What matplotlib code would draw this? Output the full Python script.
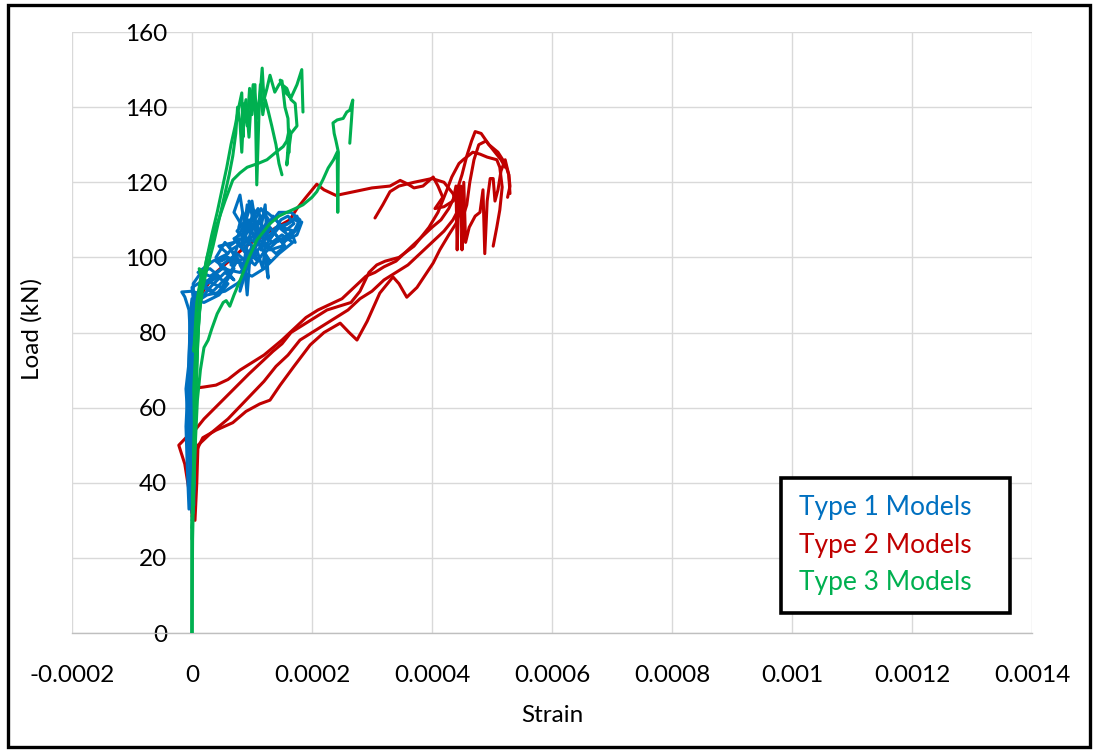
import matplotlib
matplotlib.use("Agg")
import matplotlib.pyplot as plt
from matplotlib.lines import Line2D
from matplotlib.patches import Rectangle

plt.rcParams['font.family'] = ['Lato', 'DejaVu Sans']

# Strain values are in microstrain, loads in kN.
# ---- Type 1 models ----
T1_A_STRAIN = [0, -2, -5, -8, -10, -5, -3, -5, -12, -17, 0, 10, 25, 45, 30, 10, 35, 60, 45, 70, 85, 70, 80, 90, 100, 110, 120, 135, 150, 170, 183, 175, 150, 130, 115]
T1_A_LOAD = [32, 40, 50, 60, 65, 72, 80, 86, 89.5, 90.8, 91, 90.5, 93, 95, 97, 96, 99, 101, 103, 104, 108, 112, 116.6, 106, 110, 113, 106, 111, 108, 110, 109.4, 106, 104, 108, 102]
T1_B_STRAIN = [2, 2, 3, 2, 5, 0, 20, 50, 65, 40, 60, 85, 100, 80, 95, 120, 100, 90, 80, 95, 110, 125, 127, 120, 140, 160, 145, 130]
T1_B_LOAD = [32, 45, 60, 75, 85, 92, 94, 92, 96, 99, 100, 98, 101, 103, 105, 107, 108, 102, 91, 99, 104, 100, 94.5, 101, 104, 106, 108, 105]
T1_C_STRAIN = [0, 4, 5, 6, 8, 10, 30, 55, 70, 50, 75, 90, 100, 88, 95, 105, 115, 122, 125, 140, 160, 175, 178, 160, 135, 112, 100, 92, 85]
T1_C_LOAD = [30, 40, 55, 70, 82, 88, 92, 96, 94, 98, 101, 99, 103, 106, 110, 104, 108, 114, 105, 108, 109, 111, 108, 105, 104, 106, 112, 114, 104]
T1_D_STRAIN = [-3, -4, -2, 0, 5, 15, 35, 60, 75, 62, 80, 65, 90, 105, 118, 130, 110, 95, 102, 110, 125, 150, 168, 145, 120, 100, 85]
T1_D_LOAD = [35, 50, 70, 80, 88, 93, 91, 95, 99, 103, 105, 98, 100, 98, 101, 99, 104, 108, 112, 105, 103, 106, 104, 101, 97, 95, 96]
T1_E_STRAIN = [-5, -8, -10, -6, -4, -2, 5, 20, 40, 55, 70, 60, 48, 65, 85, 95, 110, 100, 75, 90, 105, 115, 100, 95, 110, 130, 150, 165, 172]
T1_E_LOAD = [33, 45, 55, 68, 78, 85, 90, 92, 90, 93, 97, 100, 99, 102, 104, 101, 99, 103, 107, 110, 108, 111, 113, 115, 104, 102, 103, 107, 104]
T1_F_STRAIN = [1, 0, 1, 0, 3, 2, 15, 30, 50, 40, 55, 75, 88, 92, 96, 108, 118, 122, 135, 148, 160, 170, 155, 140, 125, 112, 98, 85, 78]
T1_F_LOAD = [35, 50, 65, 78, 88, 93, 96, 95, 97, 100, 104, 100, 97, 90, 99, 102, 97, 103, 106, 110, 111, 109, 107, 110, 112, 109, 107, 112, 108]
T1_G_STRAIN = [0, -3, -5, -3, 0, 20, 45, 60, 40, 20, 50, 80, 100, 85, 70, 90, 110, 128, 115, 105, 120, 140, 155, 140]
T1_G_LOAD = [33, 50, 70, 85, 89, 88, 90, 93, 95, 93, 97, 96, 99, 102, 105, 107, 106, 110, 113, 110, 104, 101, 103, 106]
T1_H_STRAIN = [3, 4, 5, 6, 25, 55, 75, 90, 80, 100, 115, 95, 82, 88, 100, 108, 125, 145, 165, 180, 170, 150]
T1_H_LOAD = [34, 55, 75, 88, 90, 91, 93, 95, 98, 100, 103, 105, 103, 109, 115, 107, 108, 112, 112, 110, 107, 108]

# ---- Type 2 models ----
T2_A_STRAIN = [3, 4, 5, 5, 6, 20, 40, 60, 80, 100, 120, 135, 150, 170, 190, 210, 230, 250, 270, 290, 305, 320, 340, 360, 380, 400, 415, 428, 440, 450, 458, 466, 472, 482, 495, 510, 522, 528, 530, 526]
T2_A_LOAD = [32, 40, 50, 58, 65.2, 65.5, 66, 67.5, 70, 72, 74, 76, 78, 81, 84, 86, 87.5, 89, 92, 95, 96, 97.5, 99, 102, 105, 108, 110, 113, 117, 122, 127, 131, 133.5, 133, 130, 128, 125, 122, 119, 116]
T2_B_STRAIN = [0, -5, -12, -22, -10, 5, 20, 45, 70, 95, 115, 135, 150, 165, 185, 205, 225, 245, 265, 280, 295, 308, 322, 345, 370, 395, 410, 425, 433, 445, 452, 468, 480, 492, 508, 513, 517, 513, 508, 502]
T2_B_LOAD = [32, 38, 45, 50, 52, 54, 57, 61, 65, 69, 72, 75, 77, 80, 82, 84, 86, 87, 88, 91, 96, 98, 99, 100, 103, 108, 112, 118, 121.4, 125, 126, 128, 127.5, 126.7, 126, 124, 118.7, 112.6, 108, 103]
T2_C_STRAIN = [2, 4, 6, 18, 40, 68, 90, 113, 130, 147, 170, 197, 220, 247, 262, 275, 292, 313, 335, 345, 358, 375, 402, 413, 428, 440, 446, 448, 450, 453, 456, 462, 472, 480, 485, 488, 492, 497, 502, 505, 510, 515, 522, 528, 530]
T2_C_LOAD = [33, 42, 48, 52, 54, 56, 59, 61, 62, 66, 71, 76.7, 80, 82.5, 80, 78, 83, 90.5, 94.8, 93, 89.4, 92, 98.5, 102, 106, 109, 112, 119, 102, 120, 104, 108, 111, 112, 118, 101, 115, 121, 121, 115, 118, 123, 126, 122, 117]
T2_D_STRAIN = [0, 2, 4, 5, 6, 40, 90, 130, 163, 175, 190, 208, 220, 240, 270, 300, 330, 347, 360, 370, 385, 402, 410, 418, 405, 420, 435, 440, 442, 445, 450, 458, 463, 470, 478, 490, 505, 515, 522]
T2_D_LOAD = [31, 45, 60, 75, 88, 96, 103, 107, 110, 113, 116, 119.5, 118, 116.5, 117.5, 118.5, 119, 120.5, 119.5, 118.5, 119, 121.4, 119, 116, 113, 113.5, 115, 119, 102, 118, 110, 114, 120, 126, 130, 131, 128, 126, 124]
T2_E_STRAIN = [5, 8, 10, 30, 60, 90, 120, 140, 160, 180, 200, 220, 240, 260, 280, 300, 320, 340, 360, 380, 400, 420, 435, 445, 435, 420, 400, 370, 345, 330, 318, 305]
T2_E_LOAD = [30, 40, 50, 53, 57, 62, 67, 71, 74, 78, 80, 82, 84, 86, 89, 91, 94, 96, 98, 101, 104, 107, 110, 113, 117, 120, 121, 120, 119, 117.5, 114, 110.5]

# ---- Type 3 models ----
T3_A_STRAIN = [0, 0, 0, 3, 6, 9, 14, 20, 27, 33, 42, 52, 57, 63, 70, 83, 95, 108, 120, 130, 145, 158, 172, 185, 200, 208, 218, 227, 236, 242, 243, 244, 240, 237, 235, 242, 252, 258, 263, 268, 266, 263]
T3_A_LOAD = [0, 15, 28, 40, 52, 62, 70, 76, 78, 81, 85, 88, 88.5, 87, 90, 95, 100, 104.6, 107, 109, 111, 112, 113, 114, 116, 117.5, 120.6, 123.8, 126, 128, 112, 128, 131, 133, 135.8, 136.6, 137, 138.7, 139.2, 141.9, 137, 130.4]
T3_B_STRAIN = [0, 1, 3, 6, 10, 15, 25, 40, 55, 68, 80, 92, 110, 125, 140, 152, 158, 162, 158, 165, 175, 172, 165, 158, 150, 147, 155, 165, 175, 183, 184, 185]
T3_B_LOAD = [0, 25, 40, 60, 80, 92, 100, 108, 115, 120.6, 122.5, 124, 125, 126, 128, 129.5, 131, 134, 124.6, 133, 135, 141, 142, 145, 146, 147.2, 144, 142.5, 146, 150, 144, 138.7]
T3_C_STRAIN = [0, 0, 2, 4, 7, 10, 14, 18, 25, 33, 42, 50, 58, 65, 72, 78, 83, 85, 88, 92, 96, 100, 105, 108, 112, 117, 120, 125, 130, 138, 145, 150, 155, 160, 162]
T3_C_LOAD = [0, 28, 40, 55, 70, 80, 88, 94, 100, 106, 112, 118, 124, 130, 135, 140, 143.8, 132, 141, 135, 145, 138, 146, 119.3, 140, 150.4, 142, 145, 148.5, 144, 146, 147, 140, 137, 128]
T3_D_STRAIN = [0, 3, 6, 9, 12, 18, 25, 35, 45, 55, 62, 68, 73, 76, 80, 83, 86, 90, 95, 98, 102, 106, 110, 114, 118, 122, 127, 133, 140, 145, 150]
T3_D_LOAD = [28, 45, 62, 75, 85, 92, 97, 103, 110, 117, 122, 127, 133, 140, 136, 128, 138, 142, 132, 140, 146, 142, 137, 146, 138, 142, 139, 135, 130, 125, 122]
T3_E_STRAIN = [0, 2, 4, 3, 6, 10, 3, 8, 15, 12, 20, 30]
T3_E_LOAD = [25, 40, 55, 65, 75, 85, 75, 88, 95, 97, 96, 99]

SERIES = {
    'Type 1 Models': ('#0070C0', [(T1_A_STRAIN, T1_A_LOAD), (T1_B_STRAIN, T1_B_LOAD),
                                  (T1_C_STRAIN, T1_C_LOAD), (T1_D_STRAIN, T1_D_LOAD),
                                  (T1_E_STRAIN, T1_E_LOAD), (T1_F_STRAIN, T1_F_LOAD),
                                  (T1_G_STRAIN, T1_G_LOAD), (T1_H_STRAIN, T1_H_LOAD)]),
    'Type 2 Models': ('#C00000', [(T2_A_STRAIN, T2_A_LOAD), (T2_B_STRAIN, T2_B_LOAD),
                                  (T2_C_STRAIN, T2_C_LOAD), (T2_D_STRAIN, T2_D_LOAD),
                                  (T2_E_STRAIN, T2_E_LOAD)]),
    'Type 3 Models': ('#00B050', [(T3_A_STRAIN, T3_A_LOAD), (T3_B_STRAIN, T3_B_LOAD),
                                  (T3_C_STRAIN, T3_C_LOAD), (T3_D_STRAIN, T3_D_LOAD),
                                  (T3_E_STRAIN, T3_E_LOAD)]),
}
DRAW_ORDER = ['Type 2 Models', 'Type 1 Models', 'Type 3 Models']

X_TICKS = [-0.0002, 0, 0.0002, 0.0004, 0.0006, 0.0008, 0.001, 0.0012, 0.0014]
X_TICK_LABELS = ['-0.0002', '0', '0.0002', '0.0004', '0.0006', '0.0008', '0.001', '0.0012', '0.0014']
Y_TICKS = [0, 20, 40, 60, 80, 100, 120, 140, 160]

fig = plt.figure(figsize=(10.94, 7.52), dpi=100)
ax = fig.add_axes([0.0658, 0.1582, 0.8775, 0.7992])

for name in DRAW_ORDER:
    color, curves = SERIES[name]
    for strain, load in curves:
        ax.plot([s * 1e-6 for s in strain], load, color=color, lw=2.2,
                solid_joinstyle='round', solid_capstyle='round', zorder=3)

ax.set_xlim(-0.0002, 0.0014)
ax.set_ylim(0, 160)
ax.set_xticks(X_TICKS)
ax.set_xticklabels(X_TICK_LABELS)
ax.set_yticks(Y_TICKS)
ax.grid(True, color='#D9D9D9', lw=1.0, zorder=0)
ax.set_axisbelow(True)

for side in ('top', 'right'):
    ax.spines[side].set_visible(False)
ax.spines['left'].set_position(('data', 0))
ax.spines['left'].set_visible(False)
ax.spines['bottom'].set_color('#BFBFBF')
ax.spines['bottom'].set_linewidth(1.0)

FS = 17.5
ax.tick_params(axis='both', length=0, labelsize=FS, colors='black')
ax.tick_params(axis='y', pad=18)
ax.tick_params(axis='x', pad=23)

ax.set_xlabel('Strain', fontsize=FS, labelpad=14)
fig.text(0.029, 0.562, 'Load (kN)', rotation=90, fontsize=FS, ha='center', va='center')

handles = [Line2D([], [], color=SERIES[n][0], lw=0) for n in SERIES]
leg = ax.legend(handles, list(SERIES.keys()), loc='lower left', mode='expand',
                bbox_to_anchor=(0.7385, 0.033, 0.2385, 0.23), handlelength=0, handletextpad=0,
                labelcolor=[SERIES[n][0] for n in SERIES], fontsize=19,
                frameon=True, framealpha=1, fancybox=False, borderpad=0.68,
                labelspacing=0.47, borderaxespad=0)
leg.get_frame().set_edgecolor('black')
leg.get_frame().set_linewidth(2.6)
leg.set_zorder(5)

fig.patches.append(Rectangle((0.0075, 0.006), 0.9885, 0.988, transform=fig.transFigure,
                             fill=False, edgecolor='black', lw=2.4))

fig.savefig('out.png', dpi=100)
